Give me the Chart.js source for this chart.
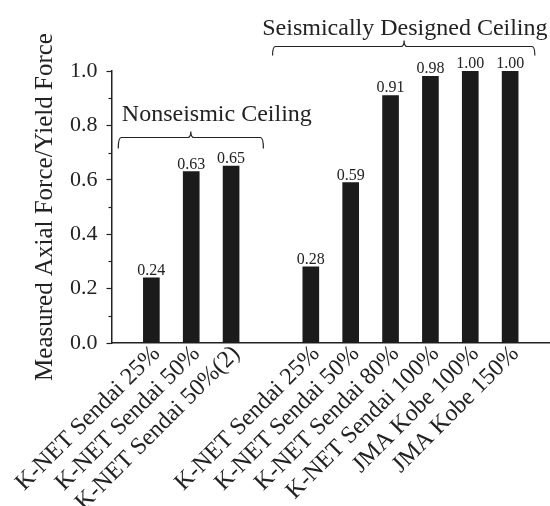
<!DOCTYPE html>
<html>
<head>
<meta charset="utf-8">
<script src="https://cdn.jsdelivr.net/npm/chart.js@4.4.1/dist/chart.umd.min.js"></script>
<style>
  body { margin: 0; background: #fff; }
</style>
</head>
<body>
<canvas id="force-chart" width="550" height="506"></canvas>
<script>
// test cases (empty slots keep the two groups apart)
const categories = ['', 'K-NET Sendai 25%', 'K-NET Sendai 50%', 'K-NET Sendai 50%(2)', '',
    'K-NET Sendai 25%', 'K-NET Sendai 50%', 'K-NET Sendai 80%', 'K-NET Sendai 100%',
    'JMA Kobe 100%', 'JMA Kobe 150%', ''];
// measured axial force / yield force
const forceRatios = [null, 0.24, 0.63, 0.65, null, 0.28, 0.59, 0.91, 0.98, 1.00, 1.00, null];
const yTicks = [0, 0.2, 0.4, 0.6, 0.8, 1.0];
const groupNames = ['Nonseismic Ceiling', 'Seismically Designed Ceiling'];

const serif = "'Liberation Serif', 'Times New Roman', serif";
const ink = '#222';

// valeurs au-dessus des barres
const valueLabels = {
    id: 'valueLabels',
    afterDatasetsDraw(chart) {
        const ctx = chart.ctx;
        const meta = chart.getDatasetMeta(0);
        ctx.save();
        ctx.font = '16px ' + serif;
        ctx.fillStyle = ink;
        ctx.textAlign = 'center';
        ctx.textBaseline = 'alphabetic';
        meta.data.forEach((bar, i) => {
            const v = forceRatios[i];
            if (v === null) return;
            ctx.fillText(v.toFixed(2), bar.x, bar.y - 3);
        });
        ctx.restore();
    }
};

// petites graduations du 2e niveau sur l'axe y
const minorTicks = {
    id: 'minorTicks',
    afterDraw(chart) {
        const {ctx, scales: {y}} = chart;
        ctx.save();
        ctx.strokeStyle = ink;
        ctx.lineWidth = 1.2;
        for (let i = 0; i < yTicks.length - 1; i++) {
            const py = Math.round(y.getPixelForValue((yTicks[i] + yTicks[i + 1]) / 2)) + 0.5;
            ctx.beginPath();
            ctx.moveTo(y.right - 3, py);
            ctx.lineTo(y.right, py);
            ctx.stroke();
        }
        ctx.restore();
    }
};

// accolades des groupes
const brackets = {
    id: 'brackets',
    afterDraw(chart, args, opts) {
        const {ctx, scales: {x, y}} = chart;
        ctx.save();
        ctx.strokeStyle = ink;
        ctx.fillStyle = ink;
        ctx.lineWidth = 1.2;
        ctx.font = '24px ' + serif;
        opts.items.forEach((b, k) => {
            const x0 = x.getPixelForValue(b.from);
            const x1 = x.getPixelForValue(b.to);
            const xm = x.getPixelForValue(b.mid);
            const yl = Math.round(y.getPixelForValue(b.level)) + 0.5;
            const r = 3;
            ctx.beginPath();
            ctx.moveTo(x0, yl + b.depth);
            ctx.quadraticCurveTo(x0, yl, x0 + r, yl);
            ctx.lineTo(xm - r, yl);
            ctx.quadraticCurveTo(xm, yl, xm, yl - 6);
            ctx.quadraticCurveTo(xm, yl, xm + r, yl);
            ctx.lineTo(x1 - r, yl);
            ctx.quadraticCurveTo(x1, yl, x1, yl + b.depth);
            ctx.stroke();
            ctx.textAlign = b.align;
            ctx.textBaseline = 'alphabetic';
            ctx.fillText(groupNames[k], x.getPixelForValue(b.textAt), y.getPixelForValue(b.textLevel));
        });
        ctx.restore();
    }
};

const ctx = document.getElementById('force-chart').getContext('2d');

const forceChart = new Chart(ctx, {
    type: 'bar',
    data: {
        labels: categories,
        datasets: [{
            data: forceRatios,
            backgroundColor: '#1b1b1b',
            borderWidth: 0,
            barThickness: 16
        }]
    },
    options: {
        responsive: false,
        animation: false,
        layout: { padding: { left: 30, top: 71, right: 0, bottom: 0 } },
        plugins: {
            legend: { display: false },
            tooltip: { enabled: false },
            brackets: {
                items: [
                    { from: 0.17, to: 3.81, mid: 1.99, level: 0.757, depth: 11, textAt: 0.26, textLevel: 0.815, align: 'left' },
                    { from: 4.04, to: 10.62, mid: 7.34, level: 1.091, depth: 9, textAt: 7.36, textLevel: 1.134, align: 'center' }
                ]
            }
        },
        scales: {
            x: {
                offset: false,
                grid: { display: false, drawTicks: false },
                border: { display: true, color: ink, width: 1.5 },
                ticks: {
                    autoSkip: false,
                    maxRotation: 45,
                    minRotation: 45,
                    padding: -3,
                    labelOffset: 5,
                    color: ink,
                    font: { family: serif, size: 24 }
                },
                // hauteur fixe pour les étiquettes inclinées
                afterFit: (axis) => { axis.height = 163; axis.paddingRight = 0; axis.paddingLeft = 0; }
            },
            y: {
                min: 0,
                max: 1,
                afterBuildTicks: (axis) => { axis.ticks = yTicks.map(v => ({ value: v })); },
                afterFit: (axis) => { axis.width = 81.5; axis.paddingTop = 0; axis.paddingBottom = 0; },
                grid: { drawOnChartArea: false, tickLength: 5, tickColor: ink, tickWidth: 1.2 },
                border: { display: true, color: ink, width: 1.5 },
                ticks: {
                    padding: 9,
                    color: ink,
                    font: { family: serif, size: 22 },
                    callback: (v) => Number(v).toFixed(1)
                },
                title: {
                    display: true,
                    text: 'Measured Axial Force/Yield Force',
                    color: ink,
                    font: { family: serif, size: 25 },
                    padding: { top: 0, bottom: 10 }
                }
            }
        }
    },
    plugins: [valueLabels, minorTicks, brackets]
});
</script>
</body>
</html>
